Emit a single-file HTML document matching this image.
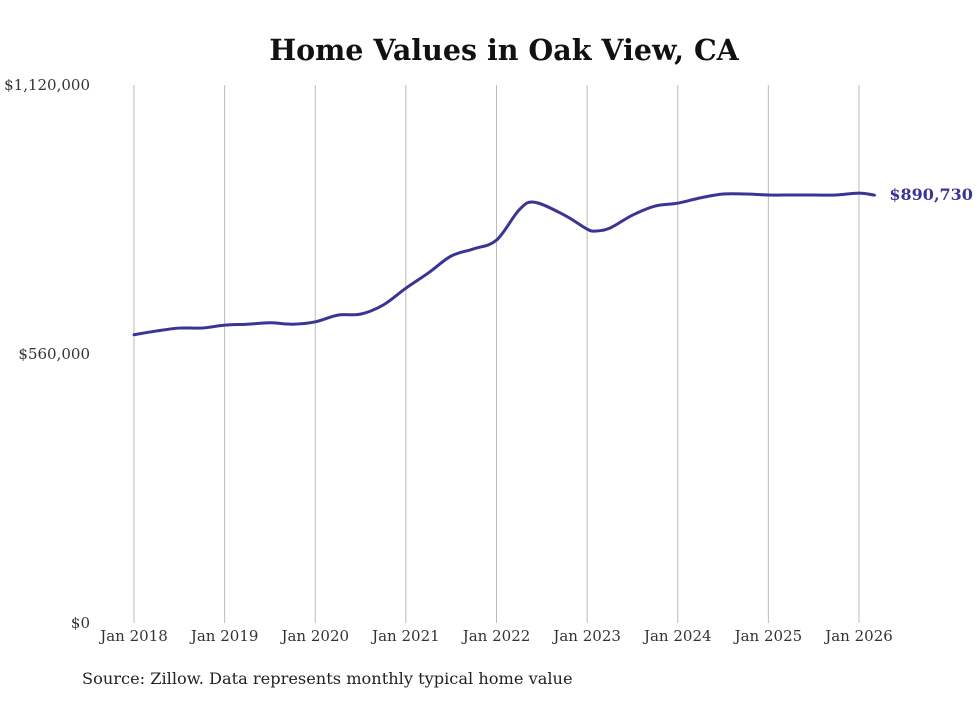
<!DOCTYPE html>
<html><head><meta charset="utf-8"><style>
body{margin:0;background:#fff;}
svg text{font-family:"DejaVu Serif","Liberation Serif",serif;}
</style></head><body>
<svg id="chart" width="980" height="699" viewBox="0 0 980 699" xmlns="http://www.w3.org/2000/svg">
<text x="504" y="60" text-anchor="middle" font-size="28.5" font-weight="bold" fill="#111">Home Values in Oak View, CA</text>
<g id="grid"></g><g id="yaxis"></g><g id="xaxis"></g><g id="series"></g>
<text x="82" y="684" font-size="16.2" fill="#222">Source: Zillow. Data represents monthly typical home value</text>
</svg>
<script>
const dates=[2018,2018.25,2018.5,2018.75,2019,2019.25,2019.5,2019.75,2020,2020.25,2020.5,2020.75,2021,2021.25,2021.5,2021.75,2022,2022.25,2022.42,2022.75,2023,2023.1,2023.25,2023.5,2023.75,2024,2024.25,2024.5,2024.75,2025,2025.25,2025.5,2025.75,2026,2026.17];
const values=[600000,608000,614000,614000,620000,622000,625000,622000,627000,641000,643000,662000,697000,729000,764000,779000,797000,860000,876000,849000,820000,816000,822000,849000,868000,874000,885000,893000,893000,891000,891000,891000,891000,895000,890730];
const yTicks=[0,560000,1120000];
const yTickLabels=["$0","$560,000","$1,120,000"];
const xTicks=[2018,2019,2020,2021,2022,2023,2024,2025,2026];
const xTickLabels=["Jan 2018","Jan 2019","Jan 2020","Jan 2021","Jan 2022","Jan 2023","Jan 2024","Jan 2025","Jan 2026"];
const lastLabel="$890,730";
const NS="http://www.w3.org/2000/svg";
const X=d=>134+(d-2018)*90.625;
const Y=v=>623-v/1120000*538;
function mk(tag,attrs,parent,text){const e=document.createElementNS(NS,tag);for(const k in attrs)e.setAttribute(k,attrs[k]);if(text!=null)e.textContent=text;parent.appendChild(e);return e;}
const grid=document.getElementById('grid'),ya=document.getElementById('yaxis'),xa=document.getElementById('xaxis'),se=document.getElementById('series');
xTicks.forEach((t,i)=>{
 const l=mk('line',{x1:X(t),x2:X(t),y1:85,y2:623,stroke:'#bbb','stroke-width':1},grid);
 
 
 const tx=mk('text',{x:X(t),y:641,'text-anchor':'middle','font-size':15,fill:'#333'},xa,xTickLabels[i]);
 
 
});
yTicks.forEach((t,i)=>{
 const tx=mk('text',{x:90,y:Y(t)+5,'text-anchor':'end','font-size':15,fill:'#333'},ya,yTickLabels[i]);
 
 
});
const pts=dates.map((d,i)=>[X(d),Y(values[i])]);
let p='M'+pts[0][0]+','+pts[0][1];
for(let i=0;i<pts.length-1;i++){
 const p0=pts[Math.max(0,i-1)],p1=pts[i],p2=pts[i+1],p3=pts[Math.min(pts.length-1,i+2)];
 const c1=[p1[0]+(p2[0]-p0[0])/6,p1[1]+(p2[1]-p0[1])/6],c2=[p2[0]-(p3[0]-p1[0])/6,p2[1]-(p3[1]-p1[1])/6];
 p+=`C${c1[0]},${c1[1]} ${c2[0]},${c2[1]} ${p2[0]},${p2[1]}`;
}
const path=mk('path',{d:p,fill:'none',stroke:'#3a3594','stroke-width':3,'stroke-linecap':'round'},se);


const last=pts[pts.length-1];
const ll=mk('text',{x:last[0]+15,y:last[1]+5,'font-size':16,'font-weight':'bold',fill:'#3a3594'},se,lastLabel);


</script>
</body></html>
